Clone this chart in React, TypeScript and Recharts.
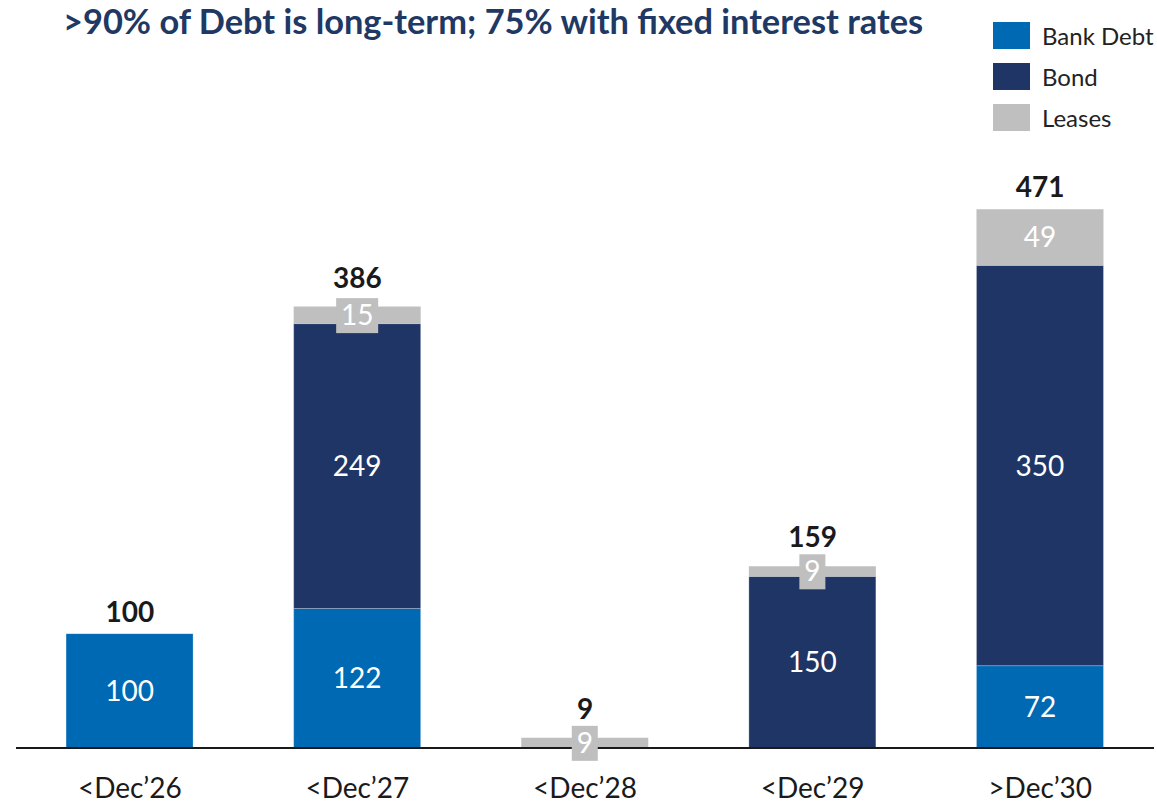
import React from "react";
import { ComposedChart, Bar, Line, XAxis, YAxis, LabelList } from "recharts";

const categories = ["<Dec\u201926", "<Dec\u201927", "<Dec\u201928", "<Dec\u201929", ">Dec\u201930"];
const bankDebt = [100, 122, 0, 0, 72];
const bond = [0, 249, 0, 150, 350];
const leases = [0, 15, 9, 9, 49];
const totals = [100, 386, 9, 159, 471];

const seriesNames = ["Bank Debt", "Bond", "Leases"];
const colors = ["#0069B4", "#1F3566", "#BFBFBF"];

const FONT = "Lato, 'Open Sans', sans-serif";

const data = categories.map((c, i) => ({
  name: c,
  bank: bankDebt[i],
  bond: bond[i],
  leases: leases[i],
  total: totals[i],
}));

function InnerLabel(props: any) {
  const { x, y, width, height, value } = props;
  if (!value) return null;
  return (
    <text
      x={x + width / 2}
      y={y + height / 2}
      dy={10}
      textAnchor="middle"
      fill="#fff"
      fontSize={28}
      fontFamily={FONT}
    >
      {value}
    </text>
  );
}

function LeaseLabel(props: any) {
  const { x, y, width, height, value } = props;
  if (!value) return null;
  const cx = x + width / 2;
  const cy = y + height / 2;
  const bw = String(value).length * 16 + 10;
  return (
    <g>
      <rect x={cx - bw / 2} y={cy - 17} width={bw} height={35} fill={colors[2]} />
      <text x={cx} y={cy} dy={10} textAnchor="middle" fill="#fff" fontSize={28} fontFamily={FONT}>
        {value}
      </text>
    </g>
  );
}

function TotalLabel(props: any) {
  const { x, y, value, index } = props;
  // small lease segments carry a label box that sticks out above the bar
  const l = leases[index];
  const off = l > 0 && l < 25 ? 19 : 12;
  return (
    <text
      x={x}
      y={y - off}
      textAnchor="middle"
      fill="#1a1a1a"
      fontSize={28}
      fontWeight={700}
      fontFamily={FONT}
    >
      {value}
    </text>
  );
}

function Tick(props: any) {
  const { x, y, payload } = props;
  return (
    <text x={x} y={y} dy={42} textAnchor="middle" fill="#1a1a1a" fontSize={28} fontFamily={FONT}>
      {payload.value}
    </text>
  );
}

export default function App() {
  return (
    <div style={{ position: "absolute", left: 0, top: 0, width: 1157, height: 802, background: "#fff" }}>
      <div
        style={{
          position: "absolute",
          left: 63,
          top: 0,
          fontFamily: FONT,
          fontWeight: 700,
          fontSize: 34.4,
          color: "#203864",
          whiteSpace: "nowrap",
        }}
      >
        &gt;90% of Debt is long-term; 75% with fixed interest rates
      </div>
      <div style={{ position: "absolute", left: 993, top: 15, fontFamily: FONT }}>
        {seriesNames.map((n, i) => (
          <div key={n} style={{ display: "flex", alignItems: "center", height: 41 }}>
            <div style={{ width: 37, height: 27, background: colors[i], marginRight: 12 }} />
            <span style={{ fontSize: 24, color: "#222" }}>{n}</span>
          </div>
        ))}
      </div>
      <ComposedChart
        width={1157}
        height={802}
        data={data}
        margin={{ top: 119, right: 3, left: 16, bottom: 0 }}
        barCategoryGap="22%"
      >
        <XAxis
          dataKey="name"
          height={54}
          axisLine={{ stroke: "#1a1a1a", strokeWidth: 2 }}
          tickLine={false}
          tick={<Tick />}
          interval={0}
        />
        <YAxis hide domain={[0, 550]} />
        <Bar
          dataKey="bank"
          stackId="a"
          fill={colors[0]}
          stroke="rgba(255,255,255,0.25)"
          isAnimationActive={false}
        >
          <LabelList dataKey="bank" content={<InnerLabel />} />
        </Bar>
        <Bar
          dataKey="bond"
          stackId="a"
          fill={colors[1]}
          stroke="rgba(255,255,255,0.25)"
          isAnimationActive={false}
        >
          <LabelList dataKey="bond" content={<InnerLabel />} />
        </Bar>
        <Bar dataKey="leases" stackId="a" fill={colors[2]} isAnimationActive={false}>
          <LabelList dataKey="leases" content={<LeaseLabel />} />
        </Bar>
        <Line
          dataKey="total"
          stroke="none"
          dot={false}
          activeDot={false}
          isAnimationActive={false}
        >
          <LabelList dataKey="total" content={<TotalLabel />} />
        </Line>
      </ComposedChart>
    </div>
  );
}
